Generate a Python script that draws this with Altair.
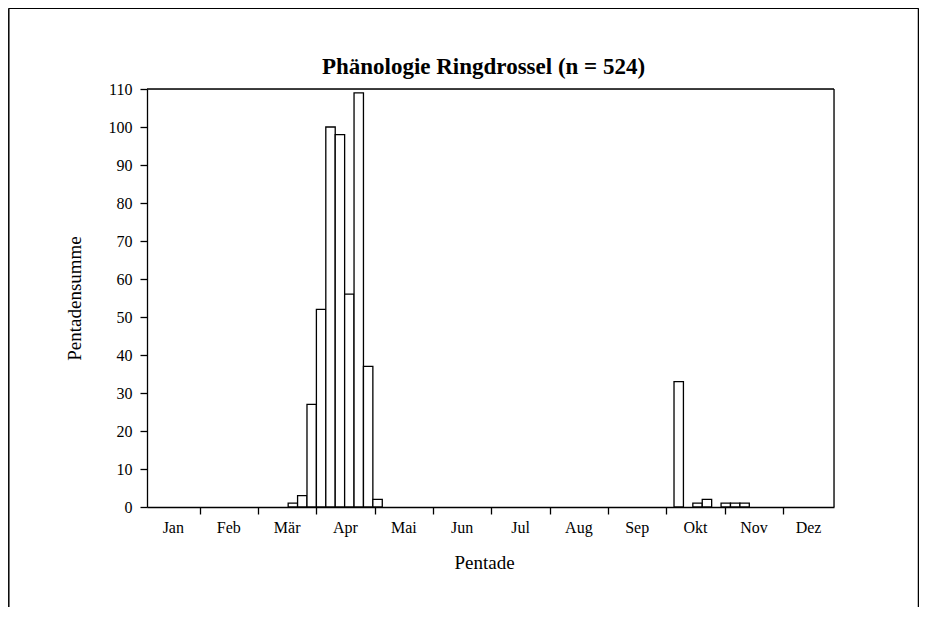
import altair as alt
import pandas as pd

# ---- data ----
n_pentads = 73
counts = [0] * n_pentads
# spring passage (Mar/Apr/Mai)
spring_idx = [15, 16, 17, 18, 19, 20, 21, 22, 23, 24]
spring_val = [1, 3, 27, 52, 100, 98, 56, 109, 37, 2]
# autumn passage (Okt/Nov)
autumn_idx = [56, 58, 59, 61, 62, 63]
autumn_val = [33, 1, 2, 1, 1, 1]
for i, v in zip(spring_idx + autumn_idx, spring_val + autumn_val):
    counts[i] = v

months = ["Jan", "Feb", "Mär", "Apr", "Mai", "Jun", "Jul", "Aug", "Sep", "Okt", "Nov", "Dez"]
y_ticks = list(range(0, 111, 10))

# ---- derived tables ----
bars = pd.DataFrame({
    "start": list(range(n_pentads)),
    "end": [i + 1 for i in range(n_pentads)],
    "count": counts,
})
bars = bars[bars["count"] > 0]

first_tick = 5.59
tick_step = 6.2
month_ticks = [first_tick + tick_step * k for k in range(11)]
edges = [0] + month_ticks + [n_pentads]
labels = pd.DataFrame({
    "month": months,
    "mid": [(edges[k] + edges[k + 1]) / 2 for k in range(12)],
})

W, H = 687, 418
FONT = "Liberation Serif"

xscale = alt.Scale(domain=[0, n_pentads], nice=False, zero=False)
yscale = alt.Scale(domain=[0, 110], nice=False)

bar_layer = alt.Chart(bars).mark_rect(
    fill="white", stroke="black", strokeWidth=1.3
).encode(
    x=alt.X("start:Q", scale=xscale,
            axis=alt.Axis(values=month_ticks, labels=False, title=None, grid=False,
                          tickSize=7, tickColor="black", domainColor="black",
                          tickWidth=1.3, domainWidth=1.3)),
    x2="end:Q",
    y=alt.Y("count:Q", scale=yscale,
            axis=alt.Axis(values=y_ticks, title="Pentadensumme", grid=False,
                          tickSize=7, tickColor="black", domainColor="black",
                          tickWidth=1.3, domainWidth=1.3,
                          labelFont=FONT, labelFontSize=16, labelColor="black",
                          labelPadding=8,
                          titleFont=FONT, titleFontSize=19, titleFontWeight="normal",
                          titleColor="black", titlePadding=24)),
    y2=alt.datum(0),
)

month_layer = alt.Chart(labels).mark_text(
    font=FONT, fontSize=16, color="black", baseline="alphabetic", align="center"
).encode(
    x=alt.X("mid:Q", scale=xscale),
    y=alt.value(H + 26),
    text="month:N",
)

xtitle = alt.Chart(pd.DataFrame({"t": ["Pentade"]})).mark_text(
    font=FONT, fontSize=19, color="black", baseline="alphabetic", align="center"
).encode(x=alt.value(W / 2 - 6), y=alt.value(H + 62), text="t:N")

title = alt.Chart(pd.DataFrame({"t": ["Phänologie Ringdrossel (n = 524)"]})).mark_text(
    font=FONT, fontSize=23, fontWeight="bold", color="black",
    baseline="alphabetic", align="center"
).encode(x=alt.value(W / 2 - 7), y=alt.value(-15), text="t:N")

one = pd.DataFrame({"a": [0]})
rule_style = dict(color="black", strokeWidth=1.5)
frame_left = alt.Chart(one).mark_rule(**rule_style).encode(
    x=alt.value(-138.2), y=alt.value(-80.8), y2=alt.value(H + 130))
frame_top = alt.Chart(one).mark_rule(**rule_style).encode(
    y=alt.value(-80.8), x=alt.value(-138.2), x2=alt.value(771.5))
frame_right = alt.Chart(one).mark_rule(**rule_style).encode(
    x=alt.value(771.5), y=alt.value(-80.8), y2=alt.value(H + 130))
box_top = alt.Chart(one).mark_rule(color="black", strokeWidth=1.3).encode(
    y=alt.value(0), x=alt.value(0), x2=alt.value(W))
box_right = alt.Chart(one).mark_rule(color="black", strokeWidth=1.3).encode(
    x=alt.value(W), y=alt.value(0), y2=alt.value(H))

chart = alt.layer(
    bar_layer, month_layer, xtitle, title,
    frame_left, frame_top, frame_right, box_top, box_right
).properties(
    width=W, height=H,
    autosize=alt.AutoSizeParams(type="none"),
    padding={"left": 139, "top": 81, "right": 85, "bottom": 100},
).configure_view(
    stroke=None
).configure(background="white")

chart.save("out.html", embed_options={"renderer": "svg", "actions": False})
